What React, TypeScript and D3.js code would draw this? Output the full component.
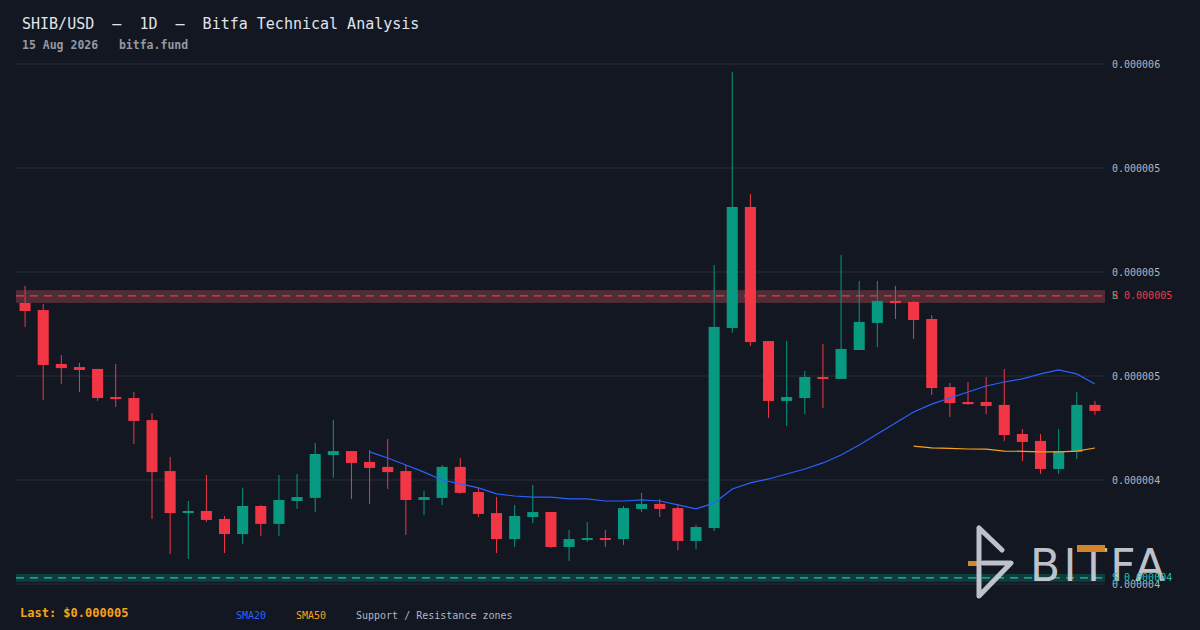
import React, {useEffect} from 'react'
import * as d3 from 'd3'

// prices are in micro-USD (1e-6)
const opens = [
    4.851, 4.817, 4.558, 4.543, 4.534, 4.399, 4.394, 4.288, 4.043, 3.841,
    3.851, 3.8125, 3.740, 3.875, 3.789, 3.899, 3.914, 4.120, 4.139, 4.087,
    4.063, 4.043, 3.904, 3.914, 4.063, 3.942, 3.841, 3.716, 3.822, 3.846,
    3.678, 3.712, 3.721, 3.716, 3.861, 3.885, 3.865, 3.707, 3.769, 4.731,
    5.3125, 4.668, 4.380, 4.394, 4.495, 4.486, 4.625, 4.755, 4.861, 4.856,
    4.774, 4.447, 4.375, 4.375, 4.361, 4.221, 4.188, 4.053, 4.135, 4.361,
]
const highs = [
    4.933, 4.846, 4.601, 4.563, 4.534, 4.558, 4.423, 4.322, 4.111, 3.899,
    4.024, 3.827, 3.962, 3.880, 4.024, 4.029, 4.178, 4.288, 4.139, 4.144,
    4.197, 4.072, 3.947, 4.072, 4.106, 3.962, 3.918, 3.880, 3.976, 3.846,
    3.760, 3.798, 3.760, 3.875, 3.938, 3.909, 3.885, 3.784, 5.034, 5.962,
    5.375, 4.668, 4.668, 4.524, 4.654, 5.082, 4.957, 4.957, 4.933, 4.861,
    4.793, 4.466, 4.471, 4.495, 4.534, 4.245, 4.221, 4.245, 4.423, 4.380,
]
const lows = [
    4.736, 4.385, 4.462, 4.423, 4.380, 4.351, 4.173, 3.813, 3.644, 3.620,
    3.798, 3.649, 3.692, 3.731, 3.731, 3.861, 3.846, 4.010, 3.909, 3.885,
    3.957, 3.736, 3.832, 3.880, 3.933, 3.822, 3.649, 3.678, 3.793, 3.673,
    3.611, 3.702, 3.678, 3.688, 3.846, 3.822, 3.663, 3.668, 3.755, 4.707,
    4.644, 4.298, 4.260, 4.317, 4.346, 4.486, 4.625, 4.639, 4.774, 4.678,
    4.409, 4.303, 4.361, 4.317, 4.188, 4.091, 4.029, 4.029, 4.101, 4.3125,
]
const closes = [
    4.8125, 4.553, 4.538, 4.529, 4.394, 4.389, 4.284, 4.038, 3.841, 3.851,
    3.808, 3.740, 3.875, 3.789, 3.904, 3.918, 4.125, 4.139, 4.082, 4.058,
    4.038, 3.904, 3.918, 4.063, 3.938, 3.837, 3.716, 3.827, 3.846, 3.678,
    3.716, 3.721, 3.712, 3.865, 3.885, 3.861, 3.707, 3.774, 4.736, 5.3125,
    4.663, 4.380, 4.399, 4.495, 4.486, 4.630, 4.760, 4.861, 4.851, 4.769,
    4.442, 4.370, 4.365, 4.356, 4.216, 4.183, 4.053, 4.139, 4.361, 4.332,
]

const sma20Start = 19
const sma20 = [
    4.135, 4.106, 4.072, 4.038, 4.000, 3.981, 3.962, 3.933, 3.923, 3.918,
    3.918, 3.909, 3.909, 3.899, 3.899, 3.904, 3.899, 3.880, 3.861, 3.889,
    3.957, 3.986, 4.005, 4.029, 4.053, 4.082, 4.120, 4.168, 4.221, 4.274,
    4.327, 4.365, 4.394, 4.423, 4.452, 4.471, 4.486, 4.510, 4.529, 4.510,
    4.462,
]
const sma50Start = 49
const sma50 = [4.163, 4.154, 4.152, 4.149, 4.148, 4.139, 4.138, 4.135, 4.135, 4.139, 4.154]

const tickValues = [6.0, 5.5, 5.0, 4.5, 4.0, 3.5]
const tickLabels = ['0.000006', '0.000005', '0.000005', '0.000005', '0.000004', '0.000004']

const resistance = {low: 4.851, mid: 4.885, high: 4.913, label: 'R 0.000005'}
const support = {low: 3.510, mid: 3.529, high: 3.548, label: 'S 0.000004'}

const title = 'SHIB/USD  \u2013  1D  \u2013  Bitfa Technical Analysis'
const subtitle = '15 Aug 2026   bitfa.fund'
const lastLabel = 'Last: $0.000005'

const W = 1200
const H = 630
const plotLeft = 16
const plotRight = 1105

const BG = '#131722'
const GRID = '#2a2e39'
const UP = '#089981'
const DOWN = '#f23645'
const TEXT = '#b2b5be'
const BLUE = '#2962ff'
const ORANGE = '#f7a21b'
const MONO = '"DejaVu Sans Mono", monospace'

export default function App() {
    useEffect(() => {
        document.body.style.margin = '0'
        document.body.style.background = BG
    }, [])

    const idx = d3.range(opens.length)
    const x = d3.scaleBand<number>()
        .domain(idx)
        .range([plotLeft, plotRight - 1])
        .paddingInner(0.39)
        .paddingOuter(0.195)
    const cx = (i: number) => (x(i) ?? 0) + x.bandwidth() / 2
    const y = d3.scaleLinear().domain([3.5, 6.0]).range([584, 64])

    const lineGen = d3.line<[number, number]>()
        .x((d) => cx(d[0]))
        .y((d) => y(d[1]))
    const sma20Path = lineGen(sma20.map((v, k) => [sma20Start + k, v]))
    const sma50Path = lineGen(sma50.map((v, k) => [sma50Start + k, v]))

    const zone = (z: typeof resistance, fill: string, stroke: string) => (
        <g>
            <rect x={plotLeft} width={plotRight - plotLeft} y={y(z.high)}
                  height={y(z.low) - y(z.high)} fill={fill}/>
            <line x1={plotLeft} x2={plotRight} y1={y(z.mid)} y2={y(z.mid)}
                  stroke={stroke} strokeWidth={1.3} strokeDasharray="8 6"/>
        </g>
    )

    return (
        <svg width={W} height={H} style={{display: 'block', background: BG}}>
            <rect width={W} height={H} fill={BG}/>

            <text x={22} y={29} fontFamily={MONO} fontSize={15} fill="#e0e3eb" style={{whiteSpace: 'pre'}}>
                {title}
            </text>
            <text x={22} y={49} fontFamily={MONO} fontSize={11.5} fontWeight="bold" fill="#9598a1"
                  style={{whiteSpace: 'pre'}}>
                {subtitle}
            </text>

            {/* grid + right axis */}
            {tickValues.map((t, i) => (
                <g key={i}>
                    <line x1={plotLeft} x2={plotRight} y1={y(t)} y2={y(t)} stroke={GRID} strokeWidth={1}/>
                    <text x={1112} y={y(t)} dy="0.35em" fontFamily={MONO} fontSize={10} fill={TEXT}>
                        {tickLabels[i]}
                    </text>
                </g>
            ))}

            {zone(resistance, '#502c37', DOWN)}
            {zone(support, '#0d3d3c', '#22c1a6')}

            {/* candles */}
            {idx.map((i) => {
                const o = opens[i], c = closes[i]
                const up = c >= o
                const col = up ? UP : DOWN
                const top = y(Math.max(o, c))
                const h = Math.max(2, Math.abs(y(o) - y(c)))
                return (
                    <g key={i}>
                        <line x1={cx(i)} x2={cx(i)} y1={y(highs[i])} y2={y(lows[i])} stroke={col} strokeWidth={1}/>
                        <rect x={x(i)} y={top} width={x.bandwidth()} height={h} fill={col}/>
                    </g>
                )
            })}

            <path d={sma20Path ?? ''} fill="none" stroke={BLUE} strokeWidth={1.2}/>
            <path d={sma50Path ?? ''} fill="none" stroke={ORANGE} strokeWidth={1.2}/>

            {/* watermark logo */}
            <g opacity={0.9}>
                <rect x={968} y={561} width={10} height={5} fill="#e8912a"/>
                <path d="M979,528 L979,596 L1011,563 L983,563 M979,528 L1002,550" fill="none"
                      stroke="#d1d4dc" strokeWidth={5} strokeLinecap="round" strokeLinejoin="round"/>
                <text x={1030} y={581} fontFamily='"DejaVu Sans", sans-serif' fontSize={44}
                      textLength={135} lengthAdjust="spacing" fill="#d1d4dc">BITFA</text>
                <rect x={1077} y={545} width={28} height={7} fill="#e8912a"/>
            </g>

            {/* zone labels */}
            <text x={1112} y={y(resistance.mid)} dy="0.35em" fontFamily={MONO} fontSize={10} fill="#22c1a6">S</text>
            <text x={1112} y={y(resistance.mid)} dy="0.35em" fontFamily={MONO} fontSize={10} fill={DOWN}
                  style={{whiteSpace: 'pre'}}>{resistance.label}</text>
            <text x={1112} y={y(support.mid)} dy="0.35em" fontFamily={MONO} fontSize={10} fill="#22c1a6"
                  style={{whiteSpace: 'pre'}}>{support.label}</text>

            {/* footer legend */}
            <text x={20} y={617} fontFamily={MONO} fontSize={12} fontWeight="bold" fill={ORANGE}>{lastLabel}</text>
            <text x={236} y={619} fontFamily={MONO} fontSize={10} fill={BLUE}>SMA20</text>
            <text x={296} y={619} fontFamily={MONO} fontSize={10} fill={ORANGE}>SMA50</text>
            <text x={356} y={619} fontFamily={MONO} fontSize={10} fill={TEXT}>Support / Resistance zones</text>
        </svg>
    )
}
